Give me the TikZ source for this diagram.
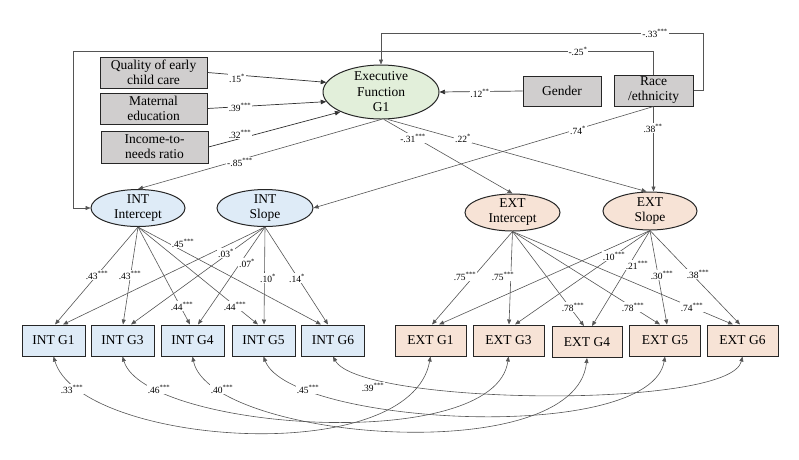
\documentclass[tikz,border=0pt]{standalone}
\usepackage{fontspec}
\setmainfont{Liberation Serif}
\usetikzlibrary{arrows.meta,shapes.geometric,calc}
\definecolor{boxgray}{RGB}{208,206,206}
\definecolor{efgreen}{RGB}{226,239,218}
\definecolor{intblue}{RGB}{222,235,247}
\definecolor{extpeach}{RGB}{247,227,214}
\definecolor{linegray}{RGB}{85,85,85}
\newcommand{\st}[1]{\textsuperscript{#1}}
\begin{document}
\begin{tikzpicture}[x=1pt,y=-1pt,
  box/.style={draw=black!85,line width=1pt,rectangle,inner sep=0pt,align=center,
    font=\fontsize{13.5}{15}\selectfont},
  gbox/.style={box,fill=boxgray,minimum width=107pt,minimum height=31pt},
  ibox/.style={box,fill=intblue,minimum width=63pt,minimum height=31pt},
  ebox/.style={box,fill=extpeach,minimum width=71pt,minimum height=31pt},
  lat/.style={ellipse,draw=black!85,line width=1pt,inner sep=0pt},
  lattext/.style={align=center,inner sep=0pt,font=\fontsize{13.5}{15.5}\selectfont},
  arr/.style={draw=linegray,line width=0.6pt,-{Triangle[length=5pt,width=4pt]}},
  darr/.style={draw=black!80,line width=0.7pt,-{Triangle[length=5.5pt,width=4.5pt]}},
  cov/.style={draw=linegray,line width=0.6pt,{Triangle[length=5pt,width=4pt]}-{Triangle[length=5pt,width=4pt]}},
  lab/.style={fill=white,inner sep=0.8pt,font=\fontsize{9.5}{11}\selectfont},
]
\useasboundingbox (0,0) rectangle (799,459);

% exogenous boxes
\node[gbox] (q) at (153.5,72.5) {Quality of early\\child care};
\node[gbox] (m) at (153.5,108.5) {Maternal\\education};
\node[gbox,minimum height=32pt] (inc) at (154.5,147) {Income-to-\\needs ratio};
\node[box,fill=boxgray,minimum width=78pt,minimum height=30pt] (gen) at (562,91) {Gender};
\node[box,fill=boxgray,minimum width=79pt,minimum height=31pt] (race) at (653.5,90.5) {Race\\/ethnicity};

% latent ellipses
\node[lat,fill=efgreen,minimum width=116pt,minimum height=54pt] (ef) at (381,92) {};
\node[lattext] (eft) at (ef) {Executive\\Function\\G1};
\node[lat,fill=intblue,minimum width=94pt,minimum height=37pt] (ii) at (138,208) {};
\node[lattext,font=\fontsize{13.5}{15}\selectfont] (iit) at (ii) {INT\\Intercept};
\node[lat,fill=intblue,minimum width=96pt,minimum height=37pt] (is) at (265,208) {};
\node[lattext,font=\fontsize{13.5}{15}\selectfont] (ist) at (is) {INT\\Slope};
\node[lat,fill=extpeach,minimum width=95pt,minimum height=37pt] (ei) at (512.5,212.5) {};
\node[lattext,font=\fontsize{13.5}{15}\selectfont] (eit) at (ei) {EXT\\Intercept};
\node[lat,fill=extpeach,minimum width=94pt,minimum height=38pt] (es) at (650,211) {};
\node[lattext,font=\fontsize{13.5}{15}\selectfont] (est) at (es) {EXT\\Slope};

% observed boxes
\node[ibox] (i1) at (53.5,340.5) {INT G1};
\node[ibox] (i3) at (122.5,340.5) {INT G3};
\node[ibox] (i4) at (192.5,340.5) {INT G4};
\node[ibox] (i5) at (263.5,340.5) {INT G5};
\node[ibox] (i6) at (333,340.5) {INT G6};
\node[ebox] (e1) at (430.5,340.5) {EXT G1};
\node[ebox] (e3) at (508.5,340.5) {EXT G3};
\node[ebox,minimum width=70pt] (e4) at (587,342) {EXT G4};
\node[ebox] (e5) at (665,340.5) {EXT G5};
\node[ebox] (e6) at (742.5,340.5) {EXT G6};

% paths into EF
\draw[darr] (q.east) -- (ef.170);
\draw[darr] (m.east) -- (ef.190);
\draw[darr] (inc.east) -- (ef.206);
\draw[darr] (gen.west) -- (ef.east);
\draw[arr] (race.east) -| (703,33) -| (ef.north);
\draw[arr] (race.north) |- (73,51) |- (ii.west);

% paths from EF and race to growth factors
\draw[arr] (ef.south) -- (ii.north);
\draw[arr] ([xshift=3pt]ef.south) -- (ei.north);
\draw[arr] ([xshift=7pt]ef.south) -- (es.100);
\draw[arr] (race.south) -- (is.east);
\draw[arr] (race.south) -- (race.south |- es.north);

% INT loadings
\draw[arr] (ii.south) -- ([xshift=1.5pt]i1.north);
\draw[arr] (ii.south) -- ([xshift=0.5pt]i3.north);
\draw[arr] (ii.south) -- ([xshift=-2.5pt]i4.north);
\draw[arr] (ii.south) -- ([xshift=-5.5pt]i5.north);
\draw[arr] (ii.south) -- ([xshift=-12pt]i6.north);
\draw[arr] (is.south) -- ([xshift=9.5pt]i1.north);
\draw[arr] (is.south) -- ([xshift=8.5pt]i3.north);
\draw[arr] (is.south) -- ([xshift=5.5pt]i4.north);
\draw[arr] (is.south) -- ([xshift=0.5pt]i5.north);
\draw[arr] (is.south) -- ([xshift=-5pt]i6.north);

% EXT loadings
\draw[arr] (ei.south) -- ([xshift=1.5pt]e1.north);
\draw[arr] (ei.south) -- ([xshift=0.5pt]e3.north);
\draw[arr] (ei.south) -- ([xshift=-3pt]e4.north);
\draw[arr] (ei.south) -- ([xshift=-5pt]e5.north);
\draw[arr] (ei.south) -- ([xshift=-9.5pt]e6.north);
\draw[arr] (es.south) -- ([xshift=8.5pt]e1.north);
\draw[arr] (es.south) -- ([xshift=6.5pt]e3.north);
\draw[arr] (es.south) -- ([xshift=5pt]e4.north);
\draw[arr] (es.south) -- ([xshift=2pt]e5.north);
\draw[arr] (es.south) -- ([xshift=-2.5pt]e6.north);

% residual covariances
\draw[cov] (i1.south) .. controls (80,445) and (410,470) .. (e1.south);
\draw[cov] (i3.south) .. controls (145,430) and (495,455) .. (e3.south);
\draw[cov] (i4.south) .. controls (210,440) and (575,470) .. (e4.south);
\draw[cov] (i5.south) .. controls (290,425) and (650,445) .. (e5.south);
\draw[cov] (i6.south) .. controls (360,405) and (730,410) .. (e6.south);

% labels
\node[lab] (l1) at (237,78) {.15\st{*}};
\node[lab] (l2) at (240,107) {.39\st{***}};
\node[lab] (l3) at (240,134) {.32\st{***}};
\node[lab] (l4) at (240,162) {-.85\st{***}};
\node[lab] (l5) at (480,93) {.12\st{**}};
\node[lab] (l6) at (578,51) {-.25\st{*}};
\node[lab] (l7) at (655,33) {-.33\st{***}};
\node[lab] (l8) at (578,130) {.74\st{*}};
\node[lab] (l9) at (653,128) {.38\st{**}};
\node[lab] (l10) at (413,138) {-.31\st{***}};
\node[lab] (l11) at (463,138) {.22\st{*}};

\node[lab] (a1) at (97,275) {.43\st{***}};
\node[lab] (a2) at (130,275) {.43\st{***}};
\node[lab] (a3) at (182,306) {.44\st{***}};
\node[lab] (a4) at (235,306) {.44\st{***}};
\node[lab] (a5) at (183,243) {.45\st{***}};
\node[lab] (b1) at (226,253) {.03\st{*}};
\node[lab] (b2) at (247,263) {.07\st{*}};
\node[lab] (b3) at (268,278) {.10\st{*}};
\node[lab] (b4) at (297,278) {.14\st{*}};

\node[lab] (c1) at (465,276) {.75\st{***}};
\node[lab] (c2) at (503,276) {.75\st{***}};
\node[lab] (c3) at (573,307) {.78\st{***}};
\node[lab] (c4) at (633,307) {.78\st{***}};
\node[lab] (c5) at (692,307) {.74\st{***}};
\node[lab] (d1) at (614,256) {.10\st{***}};
\node[lab] (d2) at (637,265) {.21\st{***}};
\node[lab] (d3) at (662,275) {.30\st{***}};
\node[lab] (d4) at (698,274) {.38\st{***}};

\node[lab] (r1) at (72,389) {.33\st{***}};
\node[lab] (r2) at (159,389) {.46\st{***}};
\node[lab] (r3) at (222,389) {.40\st{***}};
\node[lab] (r4) at (308,389) {.45\st{***}};
\node[lab] (r5) at (373,387) {.39\st{***}};
\end{tikzpicture}
\end{document}
